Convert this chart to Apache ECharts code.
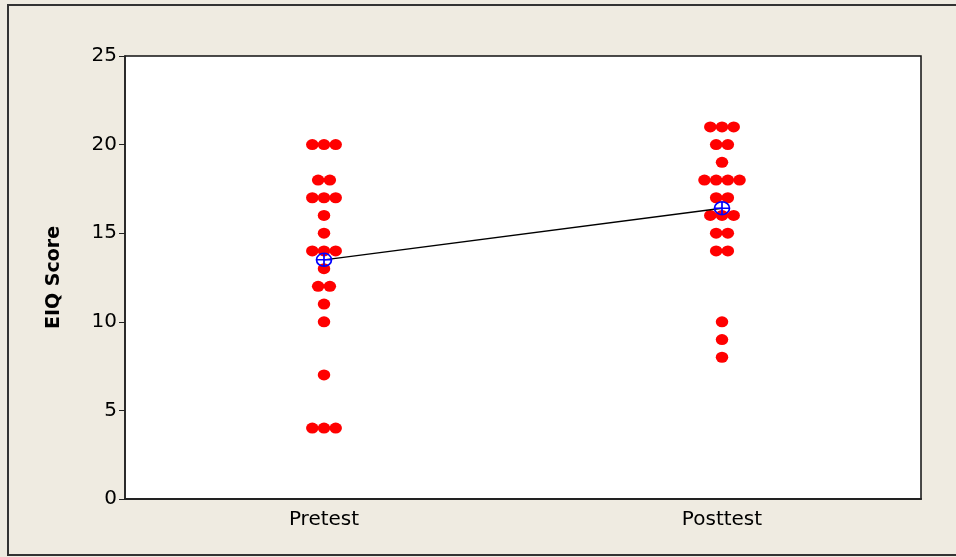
<!DOCTYPE html>
<html>
<head>
<meta charset="utf-8">
<script src="https://cdn.jsdelivr.net/npm/echarts@6/dist/echarts.min.js"></script>
<style>
html,body{margin:0;padding:0;background:#EFEBE1;}
#chart{width:956px;height:557px;}
</style>
</head>
<body>
<div id="chart"></div>
<script>
const categories = ['Pretest', 'Posttest'];
const pretestScores = [20,20,20,18,18,17,17,17,16,15,14,14,14,13,12,12,11,10,7,4,4,4];
const posttestScores = [21,21,21,20,20,19,18,18,18,18,17,17,16,16,16,15,15,14,14,10,9,8];
const yTicks = [0, 5, 10, 15, 20, 25];
const yAxisTitle = 'EIQ Score';

const DOT_STEP = 11.7; // px spacing of stacked dots

function dotData(cat, scores) {
  const counts = {};
  scores.forEach(s => { counts[s] = (counts[s] || 0) + 1; });
  const out = [];
  Object.keys(counts).forEach(k => {
    const n = counts[k];
    for (let i = 0; i < n; i++) {
      out.push({ value: [cat, Number(k)], symbolOffset: [(i - (n - 1) / 2) * DOT_STEP, 0] });
    }
  });
  return out;
}
function mean(a) { return a.reduce((s, v) => s + v, 0) / a.length; }
const means = [mean(pretestScores), mean(posttestScores)];

const chart = echarts.init(document.getElementById('chart'), null, { renderer: 'canvas' });
const FONT = 'DejaVu Sans';
chart.setOption({
  backgroundColor: '#EFEBE1',
  animation: false,
  graphic: [{
    type: 'rect', z: -10, silent: true,
    shape: { x: 8, y: 5, width: 970, height: 550 },
    style: { fill: 'none', stroke: '#333', lineWidth: 2 }
  }],
  grid: { left: 125, top: 56, right: 35, bottom: 58, show: true, backgroundColor: '#ffffff', borderColor: '#111', borderWidth: 1.5 },
  xAxis: {
    type: 'category', data: categories, boundaryGap: true,
    axisLine: { lineStyle: { color: '#222', width: 2 } },
    axisTick: { alignWithLabel: true, length: 6, lineStyle: { color: '#222' } },
    axisLabel: { color: '#000', fontSize: 20, fontFamily: FONT, margin: 11 },
    splitLine: { show: false }
  },
  yAxis: {
    type: 'value', min: yTicks[0], max: yTicks[yTicks.length - 1], interval: 5,
    name: yAxisTitle, nameLocation: 'middle', nameGap: 61,
    nameTextStyle: { color: '#000', fontSize: 19, fontWeight: 'bold', fontFamily: FONT },
    axisLine: { show: true, lineStyle: { color: '#222', width: 1.5 } },
    axisTick: { show: true, length: 6, lineStyle: { color: '#222' } },
    axisLabel: { color: '#000', fontSize: 20, fontFamily: FONT, margin: 8 },
    splitLine: { show: false }
  },
  series: [
    { type: 'scatter', name: 'Pretest', data: dotData(categories[0], pretestScores), symbol: 'circle', symbolSize: [12.5, 11], itemStyle: { color: '#FF0000', opacity: 1 }, z: 2 },
    { type: 'scatter', name: 'Posttest', data: dotData(categories[1], posttestScores), symbol: 'circle', symbolSize: [12.5, 11], itemStyle: { color: '#FF0000', opacity: 1 }, z: 2 },
    {
      type: 'line', name: 'Mean', data: means, z: 5,
      symbol: 'path://M10,0A10,10 0 1,1 -10,0A10,10 0 1,1 10,0ZM-10,0L10,0M0,-10L0,10',
      symbolSize: [15, 13], showSymbol: true,
      lineStyle: { color: '#000', width: 1.3 },
      itemStyle: { color: 'rgba(0,0,0,0)', borderColor: '#0000FF', borderWidth: 1.6 }
    }
  ]
});
</script>
</body>
</html>
